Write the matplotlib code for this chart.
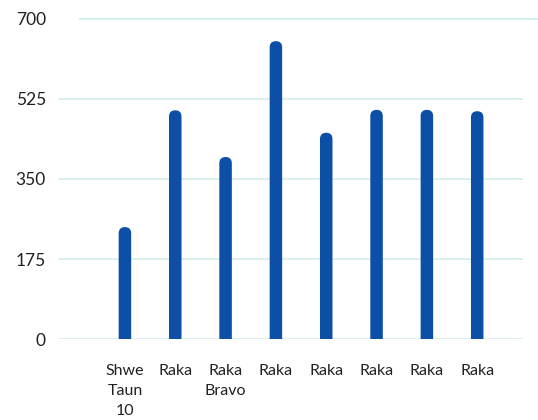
import matplotlib
matplotlib.use("Agg")
import matplotlib.pyplot as plt
from matplotlib.patches import FancyBboxPatch
import numpy as np

plt.rcParams['font.family'] = ['Lato', 'DejaVu Sans']

categories = ["Shwe\nTaun\n10", "Raka", "Raka\nBravo", "Raka", "Raka", "Raka", "Raka", "Raka"]
values = [245, 500, 398, 651, 451, 501, 501, 498]
y_ticks = [0, 175, 350, 525, 700]

bar_color = "#0d4ea6"
grid_color = "#d6eeee"
top_line_color = "#c4efea"
text_color = "#222222"

W, H, DPI = 538, 420, 100
fig = plt.figure(figsize=(W / DPI, H / DPI), dpi=DPI)
ax_left, ax_right = 59 / W, 523 / W
ax_bottom, ax_top = (H - 339.3) / H, (H - 18.7) / H
ax = fig.add_axes([ax_left, ax_bottom, ax_right - ax_left, ax_top - ax_bottom])

x = np.arange(len(categories))
x_lo, x_hi = -1.31, 7.91
ax.set_xlim(x_lo, x_hi)
ax.set_ylim(0, 700)

# bar geometry: pixel sizes converted to data units
ax_w_px = (ax_right - ax_left) * W
ax_h_px = (ax_top - ax_bottom) * H
bar_px = 12.5
bar_w = bar_px / ax_w_px * (x_hi - x_lo)
r_x = bar_w / 2
r_y = (bar_px / 2) / ax_h_px * 700

for xi, v in zip(x, values):
    # rounded box; the lower rounded end sits below zero and is clipped away
    patch = FancyBboxPatch((xi - bar_w / 2, -2 * r_y), bar_w, v + 2 * r_y,
                           boxstyle=f"round,pad=0,rounding_size={r_x}",
                           mutation_aspect=r_y / r_x,
                           facecolor=bar_color, edgecolor="none", zorder=3)
    ax.add_patch(patch)

# horizontal gridlines
for t in y_ticks[:-1]:
    ax.axhline(t, color=grid_color, lw=1.2, zorder=1)
ax.axhline(700, xmin=(80 - 59) / ax_w_px, xmax=(537 - 59) / ax_w_px,
           color=top_line_color, lw=1.2, zorder=1, clip_on=False)

for s in ax.spines.values():
    s.set_visible(False)

ax.set_yticks(y_ticks)
ax.set_yticklabels([str(t) for t in y_ticks])
ax.set_xticks(x)
ax.set_xticklabels(categories, linespacing=1.55)
ax.tick_params(axis='y', length=0, pad=9.5, labelsize=12.5, labelcolor=text_color)
ax.tick_params(axis='x', length=0, pad=18, labelsize=11.5, labelcolor=text_color)

fig.savefig("out.png", dpi=DPI, facecolor="white")
